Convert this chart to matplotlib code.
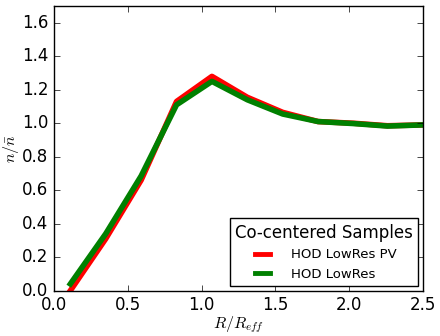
import matplotlib
matplotlib.use('Agg')
import matplotlib.pyplot as plt

plt.style.use('classic')

# radial bins (R/R_eff)
r_bins = [0.11, 0.35, 0.59, 0.83, 1.07, 1.31, 1.55, 1.79, 2.03, 2.26, 2.5]
# normalised density profiles
hod_lowres_pv = [0.0, 0.31, 0.66, 1.13, 1.28, 1.155, 1.065, 1.01, 1.0, 0.985, 0.99]
hod_lowres = [0.04, 0.34, 0.685, 1.11, 1.25, 1.14, 1.055, 1.01, 0.998, 0.983, 0.99]

fig = plt.figure(figsize=(4.4, 3.36), dpi=100, facecolor='white')
ax = fig.add_axes([0.123, 0.135, 0.838, 0.847])

ax.plot(r_bins, hod_lowres_pv, color='red', lw=4, label='HOD LowRes PV')
ax.plot(r_bins, hod_lowres, color='green', lw=4, label='HOD LowRes')

ax.set_xlim(0, 2.5)
ax.set_ylim(0, 1.7)
ax.set_xticks([0.0, 0.5, 1.0, 1.5, 2.0, 2.5])
ax.set_yticks([0.0, 0.2, 0.4, 0.6, 0.8, 1.0, 1.2, 1.4, 1.6])
ax.tick_params(labelsize=12)
ax.set_xlabel(r'$R/R_{eff}$', fontsize=11.5)
ax.set_ylabel(r'$n/\bar{n}$', fontsize=11.5)
ax.xaxis.set_label_coords(0.5, -0.085)
ax.yaxis.set_label_coords(-0.09, 0.5)

leg = ax.legend(loc='lower right', title='Co-centered Samples', fontsize=9.5,
                handlelength=1.75, handletextpad=1.3, borderaxespad=0.35)
leg.get_title().set_fontsize(12)
for h in leg.get_lines():
    h.set_linewidth(3.5)

fig.savefig('out.png', dpi=100, facecolor='white')
